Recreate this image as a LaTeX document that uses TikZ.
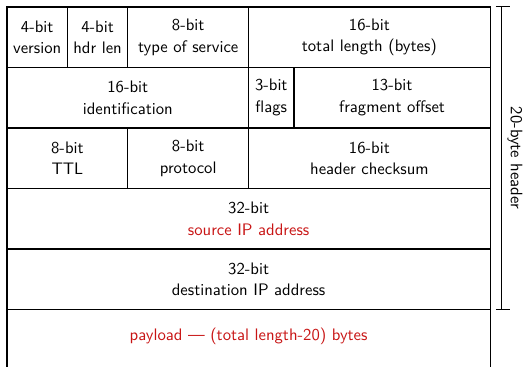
\documentclass[tikz,border=0pt]{standalone}
\usepackage{xcolor}
\definecolor{hdrred}{RGB}{200,20,20}
\tikzset{field/.style={align=center,font=\sffamily}}
\begin{document}
\begin{tikzpicture}[x=9.06pt,y=-36.3pt]
    \useasboundingbox (-0.4636,-0.1157) rectangle (34.238,5.950);
    % the header boxes
    \begin{scope}[line width=.8pt]
      \draw (0,5.95)--(0,0)--(32,0)--(32,5.95);
      \foreach\y in {1,...,5} \draw (0,\y)--(32,\y);
      \foreach\x in {4,8,16} \draw (\x,0)--(\x,1);
      \foreach\x in {16,19} \draw (\x,1)--(\x,2);
      \foreach\x in {8,16} \draw (\x,2)--(\x,3);
    \end{scope}
    \node[field] (ver) at (2,.5) {4-bit\\[1pt]version};
    \node[field] (hlen) at (6,.5) {4-bit\\[1pt]hdr len};
    \node[field] (tos) at (12,.5) {8-bit\\[1pt]type of service};
    \node[field] (tlen) at (24,.5) {16-bit\\[1pt]total length (bytes)};
    \node[field] (ident) at (8,1.5) {16-bit\\[1pt]identification};
    \node[field] (flags) at (17.5,1.5) {3-bit\\[1pt]flags};
    \node[field] (frag) at (25.5,1.5) {13-bit\\[1pt]fragment offset};
    \node[field] (ttl) at (4,2.5) {8-bit\\[1pt]TTL};
    \node[field] (proto) at (12,2.5) {8-bit\\[1pt]protocol};
    \node[field] (csum) at (24,2.5) {16-bit\\[1pt]header checksum};
    \node[field] (src) at (16,3.5) {32-bit\\[1pt]\textcolor{hdrred}{source IP address}};
    \node[field] (dst) at (16,4.5) {32-bit\\[1pt]destination IP address};
    \node[field,text=hdrred] (pay) at (16,5.45) {payload --- (total length-20) bytes};
    % bracket for the header
    \draw[line width=.6pt] (32.38,0)--(33.31,0) (32.78,0)--(32.78,5) (32.38,5)--(33.31,5);
    \node[field,rotate=-90] (hdr) at (33.64,2.5) {20-byte header};
  \end{tikzpicture}
\end{document}
